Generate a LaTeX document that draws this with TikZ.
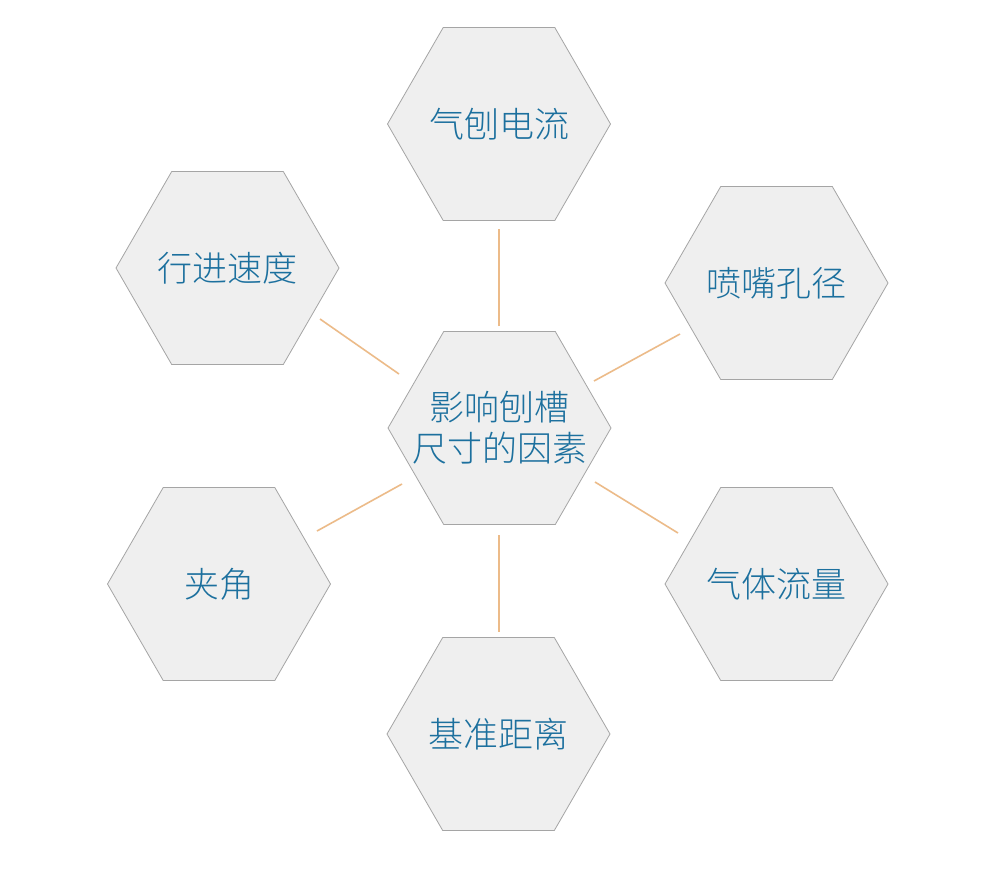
\documentclass[tikz,border=0pt]{standalone}
\usepackage{fontspec}
\setmainfont{Noto Sans CJK SC}[UprightFont=* Light]
\usetikzlibrary{shapes.geometric}
\definecolor{hexfill}{RGB}{239,239,239}
\definecolor{hexdraw}{RGB}{165,165,165}
\definecolor{txtblue}{RGB}{28,112,158}
\definecolor{linkor}{RGB}{236,187,137}
\tikzset{
  hexbox/.style={regular polygon, regular polygon sides=6, minimum size=223pt, inner sep=0pt, fill=hexfill, draw=hexdraw, line width=0.8pt},
  hextext/.style={text=txtblue, font=\fontsize{35pt}{41pt}\selectfont, align=center, inner sep=0pt},
  linkline/.style={draw=linkor, line width=1.6pt}
}
\begin{document}
\begin{tikzpicture}[x=1pt,y=-1pt]
\useasboundingbox (0,0) rectangle (1000,895);
\fill[white] (0,0) rectangle (1000,895);
% hexagons
\node[hexbox] (hc) at (499.5,428) {};
\node[hexbox] (ht) at (499,124) {};
\node[hexbox] (hul) at (227.5,268) {};
\node[hexbox] (hur) at (776.5,283) {};
\node[hexbox] (hl) at (219,584) {};
\node[hexbox] (hr) at (776.5,584) {};
\node[hexbox] (hb) at (498.5,734) {};
% texts
\node[hextext] (tc) at (hc) {影响刨槽\\尺寸的因素};
\node[hextext] (tt) at (ht) {气刨电流};
\node[hextext] (tul) at (hul) {行进速度};
\node[hextext] (tur) at (hur) {喷嘴孔径};
\node[hextext] (tl) at (hl) {夹角};
\node[hextext] (tr) at (hr) {气体流量};
\node[hextext] (tb) at (hb) {基准距离};
% connector end points
\coordinate (ct1) at (499,326); \coordinate (ct2) at (499,229);
\coordinate (cul1) at (399,374); \coordinate (cul2) at (320,319);
\coordinate (cur1) at (594,381); \coordinate (cur2) at (680,334);
\coordinate (cl1) at (402,484); \coordinate (cl2) at (317,531);
\coordinate (cr1) at (595,482); \coordinate (cr2) at (678,533);
\coordinate (cb1) at (499,535); \coordinate (cb2) at (499,632);
\draw[linkline] (ct1) -- (ct2);
\draw[linkline] (cul1) -- (cul2);
\draw[linkline] (cur1) -- (cur2);
\draw[linkline] (cl1) -- (cl2);
\draw[linkline] (cr1) -- (cr2);
\draw[linkline] (cb1) -- (cb2);
\end{tikzpicture}
\end{document}
